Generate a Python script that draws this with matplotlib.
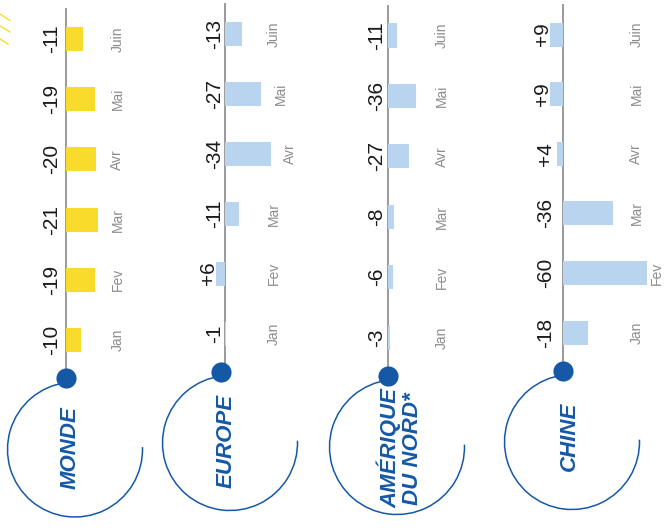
import numpy as np
import matplotlib.pyplot as plt
from matplotlib.patches import Arc
from matplotlib.lines import Line2D
from matplotlib.transforms import ScaledTranslation

plt.rcParams['font.family'] = ['Liberation Sans', 'DejaVu Sans']

# data (monthly change, %)
months = ['Jan', 'Fev', 'Mar', 'Avr', 'Mai', 'Juin']
regions = ['MONDE', 'EUROPE', 'AMÉRIQUE\nDU NORD*', 'CHINE']
monde = [-10, -19, -21, -20, -19, -11]
europe = [-1, 6, -11, -34, -27, -13]
amerique = [-3, -6, -8, -27, -36, -11]
chine = [-18, -60, -36, 4, 9, 9]
series = [monde, europe, amerique, chine]

yellow = '#f9dc2b'
light_blue = '#b9d4ee'
blue = '#1558a6'
axis_grey = '#9a9a9a'
month_grey = '#8c8c8c'
bar_colors = [yellow, light_blue, light_blue, light_blue]

# layout of each panel, in pixels
W, H = 665, 531
axis_x = [66, 224.5, 388, 563]
jan_y = [340, 333.5, 337.5, 332.5]
step = [60.2, 59.9, 60.4, 59.6]
px_unit = [1.5, 1.36, 0.78, 1.4]
dot_dx = [0, -3.5, 0, 0]
val_pad = [16, 12, 13, 19]
month_pad = [50, 48, 52.5, 72]
bar_gap = [16, 18, 16, 8.5]
label_off = [(4, 70), (5, 69), (12, 73), (6, 65.5)]

fig = plt.figure(figsize=(W / 100, H / 100), dpi=100)

for i, vals in enumerate(series):
    x0, yj, sp, s = axis_x[i], jan_y[i], step[i], px_unit[i]
    ax = fig.add_axes([0, 0, 1, 1])
    ax.set_xlim(-x0 / s, (W - x0) / s)
    ax.set_ylim((yj - H) / sp, yj / sp)
    ax.axis('off')
    ax.patch.set_alpha(0)

    y = np.arange(len(months))
    v = np.array(vals)
    ax.barh(y, -v, height=24 / sp, color=bar_colors[i], zorder=2)

    dot_y = -38 / sp
    ax.plot([0, 0], [dot_y, 5 + 30 / sp], color=axis_grey, lw=1.4, zorder=1)
    ax.plot(dot_dx[i] / s, dot_y, 'o', ms=14.5, color=blue, mec='none', zorder=4)

    for yi, val, m in zip(y, vals, months):
        left = min(0, -val) * s
        lx = min(-val_pad[i], left - 10) + 2
        ax.text(lx / s, yi, '%+d' % val, rotation=90, ha='center', va='center',
                fontsize=15, color='#1a1a1a')
        rx = max(month_pad[i], max(0, -val) * s + bar_gap[i]) + 1.4
        ax.text(rx / s, yi, m, rotation=90, ha='center', va='center',
                fontsize=10, color=month_grey)

    # circle around the region name, anchored on the dot
    trans = fig.dpi_scale_trans + ScaledTranslation(dot_dx[i] / s, dot_y, ax.transData)
    ax.add_patch(Arc((0.09, -0.715), 1.35, 1.35, theta1=97, theta2=362,
                     color=blue, lw=1.1, transform=trans, zorder=3))
    ox, oy = label_off[i]
    ax.text(ox / 100, -oy / 100, regions[i], transform=trans, rotation=90,
            ha='center', va='center', multialignment='center', linespacing=1.0,
            fontsize=16, fontweight='bold', fontstyle='italic', color=blue)

# yellow hatch marks at the top-left corner
for (x1, y1, x2, y2) in [(0, 14, 10, 20.5), (0, 26, 10, 32), (0, 39, 8, 44)]:
    fig.add_artist(Line2D([x1 / W, x2 / W], [1 - y1 / H, 1 - y2 / H],
                          transform=fig.transFigure, color=yellow, lw=1.0))

fig.savefig('out.png', dpi=100)
